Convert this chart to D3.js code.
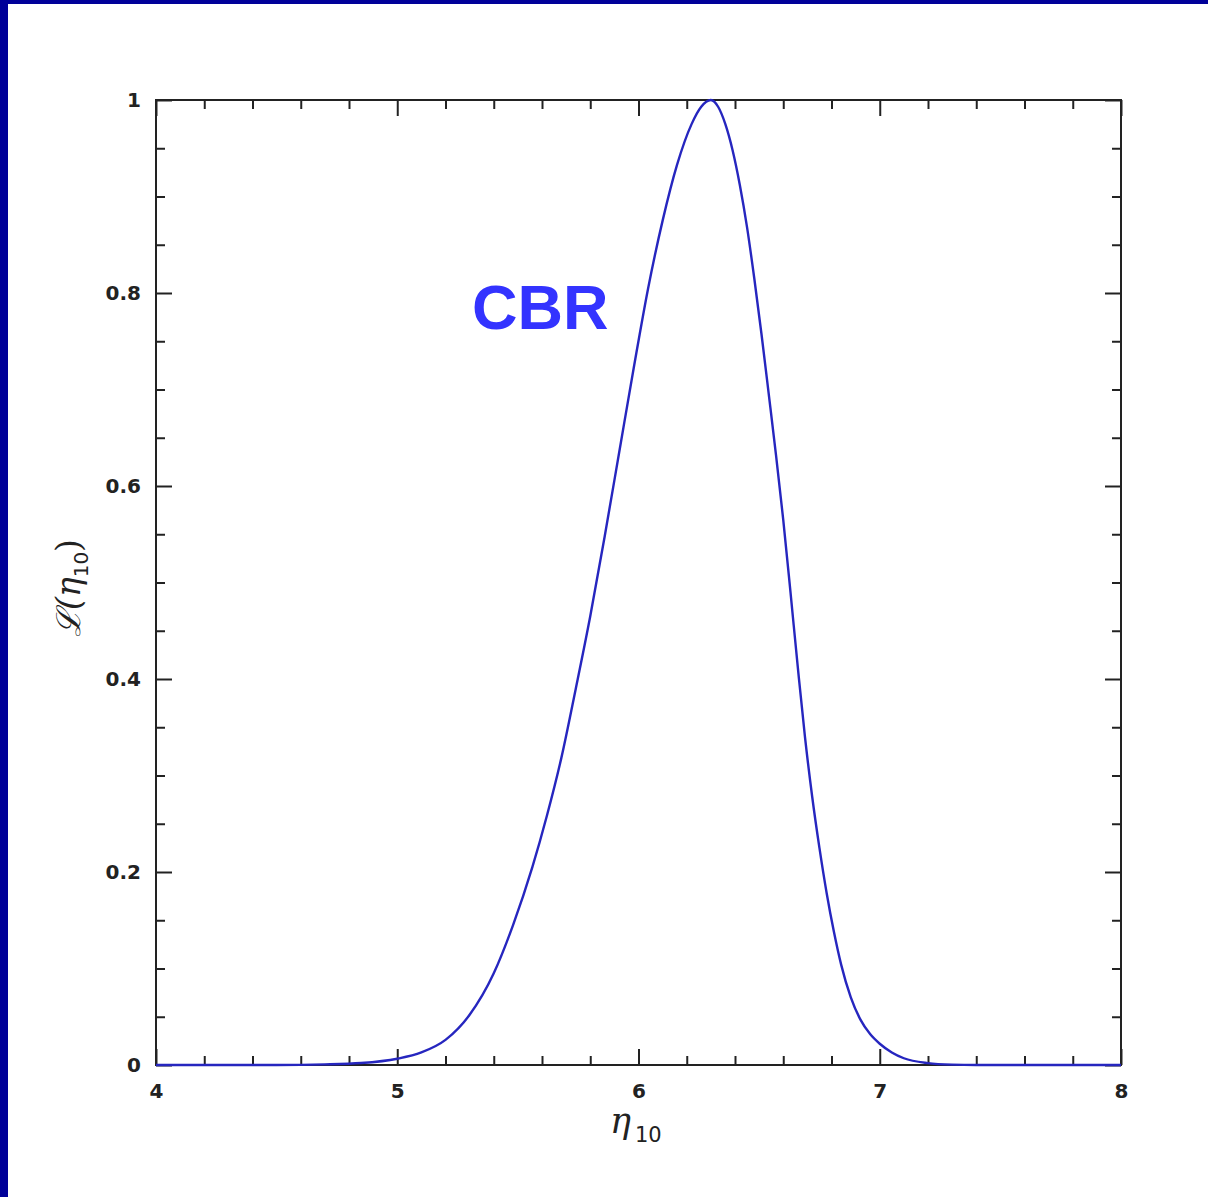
<!DOCTYPE html>
<html>
<head>
<meta charset="utf-8">
<script src="https://cdn.jsdelivr.net/npm/d3@7"></script>
<style>
  html, body { margin: 0; padding: 0; background: #fff; }
  #chart { width: 1208px; height: 1197px; }
</style>
</head>
<body>
<div id="chart"></div>
<script>
// Likelihood of eta_10
const eta = [4.00, 4.50, 4.70, 4.85, 5.00, 5.10, 5.20, 5.30, 5.40, 5.48,
             5.56, 5.62, 5.68, 5.74, 5.80, 5.86, 5.92, 5.98, 6.04, 6.10,
             6.16, 6.22, 6.26, 6.30, 6.33, 6.36, 6.39, 6.42, 6.45, 6.48,
             6.51, 6.54, 6.57, 6.60, 6.63, 6.66, 6.69, 6.72, 6.75, 6.78,
             6.81, 6.84, 6.88, 6.92, 6.96, 7.00, 7.05, 7.10, 7.20, 7.30,
             7.40, 8.00];
const likelihood = [0.000, 0.000, 0.0006, 0.002, 0.0065, 0.013, 0.026, 0.052, 0.095, 0.145,
                    0.205, 0.258, 0.318, 0.390, 0.465, 0.548, 0.635, 0.722, 0.805, 0.875,
                    0.933, 0.975, 0.993, 1.000, 0.993, 0.975, 0.948, 0.912, 0.868, 0.815,
                    0.757, 0.695, 0.632, 0.565, 0.490, 0.413, 0.340, 0.278, 0.225, 0.178,
                    0.138, 0.104, 0.070, 0.047, 0.032, 0.022, 0.013, 0.007, 0.002, 0.0004,
                    0.000, 0.000];

const xMajor = [4, 5, 6, 7, 8];
const xMinor = [4.2, 4.4, 4.6, 4.8, 5.2, 5.4, 5.6, 5.8, 6.2, 6.4, 6.6, 6.8, 7.2, 7.4, 7.6, 7.8];
const yMajor = [0, 0.2, 0.4, 0.6, 0.8, 1];
const yMinor = [0.05, 0.1, 0.15, 0.25, 0.3, 0.35, 0.45, 0.5, 0.55,
                0.65, 0.7, 0.75, 0.85, 0.9, 0.95];
const xLabels = ["4", "5", "6", "7", "8"];
const yLabels = ["0", "0.2", "0.4", "0.6", "0.8", "1"];

const W = 1208, H = 1197;
const margin = {top: 100, right: 87, bottom: 132, left: 156};
const width = W - margin.left - margin.right;
const height = H - margin.top - margin.bottom;

const svg = d3.select("#chart")
    .append("svg")
    .attr("width", W)
    .attr("height", H);

// white page with navy border on left and top
svg.append("rect").attr("width", W).attr("height", H).attr("fill", "#fff");
svg.append("rect").attr("x", 0).attr("y", 0).attr("width", 8).attr("height", H).attr("fill", "#000099");
svg.append("rect").attr("x", 0).attr("y", 0).attr("width", W).attr("height", 4).attr("fill", "#000099");

const g = svg.append("g")
    .attr("transform", `translate(${margin.left},${margin.top})`);

const x = d3.scaleLinear().domain([4, 8]).range([0, width]);
const y = d3.scaleLinear().domain([0, 1]).range([height, 0]);

const tickFont = "'DejaVu Sans', sans-serif";
const majorLen = 16, minorLen = 9;

function styleAxis(sel) {
    sel.select(".domain").remove();
    sel.selectAll("line").attr("stroke", "#222").attr("stroke-width", 2);
    sel.selectAll("text")
        .attr("fill", "#222")
        .style("font-family", tickFont)
        .style("font-weight", "bold")
        .style("font-size", "20px");
}

// bottom axis
g.append("g").attr("transform", `translate(0,${height})`)
    .call(d3.axisBottom(x).tickValues(xMajor).tickSize(-majorLen).tickPadding(19)
        .tickFormat((d, i) => xLabels[i]))
    .call(styleAxis);
g.append("g").attr("transform", `translate(0,${height})`)
    .call(d3.axisBottom(x).tickValues(xMinor).tickSize(-minorLen).tickFormat(""))
    .call(styleAxis);

// top axis
g.append("g")
    .call(d3.axisTop(x).tickValues(xMajor).tickSize(-majorLen).tickFormat(""))
    .call(styleAxis);
g.append("g")
    .call(d3.axisTop(x).tickValues(xMinor).tickSize(-minorLen).tickFormat(""))
    .call(styleAxis);

// left axis
g.append("g")
    .call(d3.axisLeft(y).tickValues(yMajor).tickSize(-majorLen).tickPadding(15)
        .tickFormat((d, i) => yLabels[i]))
    .call(styleAxis);
g.append("g")
    .call(d3.axisLeft(y).tickValues(yMinor).tickSize(-minorLen).tickFormat(""))
    .call(styleAxis);

// right axis
g.append("g").attr("transform", `translate(${width},0)`)
    .call(d3.axisRight(y).tickValues(yMajor).tickSize(-majorLen).tickFormat(""))
    .call(styleAxis);
g.append("g").attr("transform", `translate(${width},0)`)
    .call(d3.axisRight(y).tickValues(yMinor).tickSize(-minorLen).tickFormat(""))
    .call(styleAxis);

// frame
g.append("rect")
    .attr("width", width)
    .attr("height", height)
    .attr("fill", "none")
    .attr("stroke", "#222")
    .attr("stroke-width", 2);

// likelihood curve
const points = eta.map((e, i) => [e, likelihood[i]]);
const line = d3.line()
    .x(d => x(d[0]))
    .y(d => y(d[1]))
    .curve(d3.curveMonotoneX);

g.append("path")
    .datum(points)
    .attr("d", line)
    .attr("fill", "none")
    .attr("stroke", "#2626bf")
    .attr("stroke-width", 2.4);

// CBR label
g.append("text")
    .attr("x", x(5.31))
    .attr("y", y(0.763))
    .attr("fill", "#3333ff")
    .style("font-family", "'Liberation Sans', Arial, sans-serif")
    .style("font-weight", "bold")
    .style("font-size", "63px")
    .text("CBR");

// x axis title: eta_10
const xt = svg.append("text")
    .attr("x", 610)
    .attr("y", 1133)
    .attr("fill", "#222");
xt.append("tspan")
    .style("font-family", "'DejaVu Serif', serif")
    .style("font-style", "italic")
    .style("font-size", "35px")
    .text("η");
xt.append("tspan")
    .attr("dy", 9)
    .attr("dx", 4)
    .style("font-family", "'DejaVu Sans', sans-serif")
    .style("font-size", "21px")
    .text("10");

// y axis title: L(eta_10)
const yt = svg.append("text")
    .attr("transform", "translate(80,588) rotate(-90)")
    .attr("text-anchor", "middle")
    .attr("fill", "#222");
yt.append("tspan")
    .style("font-family", "'DejaVu Serif', serif")
    .style("font-style", "italic")
    .style("font-size", "33px")
    .text("ℒ(η");
yt.append("tspan")
    .attr("dy", 8)
    .style("font-family", "'DejaVu Sans', sans-serif")
    .style("font-size", "20px")
    .text("10");
yt.append("tspan")
    .attr("dy", -8)
    .style("font-family", "'DejaVu Serif', serif")
    .style("font-size", "33px")
    .text(")");
</script>
</body>
</html>
